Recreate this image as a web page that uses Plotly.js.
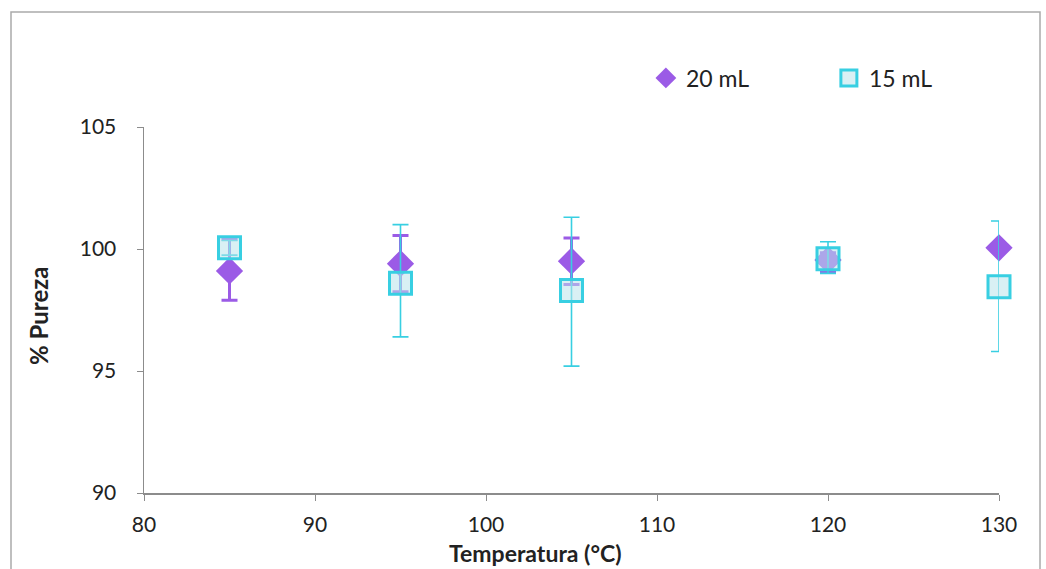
<!DOCTYPE html>
<html>
<head>
<meta charset="utf-8">
<script src="https://cdn.plot.ly/plotly-3.0.1.min.js"></script>
<style>
html,body{margin:0;padding:0;background:#fff;}
#chart{width:1046px;height:569px;}
</style>
</head>
<body>
<div id="chart"></div>
<script>
// Data
const temperatures = [85, 95, 105, 120, 130];
const pureza20 = [99.1, 99.4, 99.5, 99.55, 100.05];
const err20Plus = [1.3, 1.15, 0.95, 0.3, 0.0];
const err20Minus = [1.2, 1.15, 0.95, 0.5, 0.0];
const pureza15 = [100.05, 98.6, 98.3, 99.6, 98.45];
const err15Plus = [0.3, 2.4, 3.0, 0.7, 2.7];
const err15Minus = [0.3, 2.2, 3.1, 0.6, 2.65];
const xTicks = [80, 90, 100, 110, 120, 130];
const yTicks = [90, 95, 100, 105];
const xTitle = 'Temperatura (°C)';
const yTitle = '% Pureza';

const purple = '#9b5be6';
const cyan = '#38cfe2';
const fontFam = 'Lato, "Open Sans", "Liberation Sans", sans-serif';

const traces = [
  {
    x: temperatures, y: pureza20, name: '20 mL', type: 'scatter', mode: 'markers',
    cliponaxis: false,
    marker: {symbol: 'diamond', size: 21, color: purple},
    error_y: {type: 'data', symmetric: false, array: err20Plus, arrayminus: err20Minus,
              color: purple, thickness: 3, width: 8}
  },
  {
    x: temperatures, y: pureza15, name: '15 mL', type: 'scatter', mode: 'markers',
    cliponaxis: false,
    marker: {symbol: 'square', size: 22, color: 'rgba(185,228,235,0.55)',
             line: {color: cyan, width: 3}},
    error_y: {type: 'data', symmetric: false, array: err15Plus, arrayminus: err15Minus,
              color: cyan, thickness: 1.6, width: 8}
  }
];

const layout = {
  width: 1046, height: 569,
  margin: {l: 144, r: 47, t: 127, b: 76},
  paper_bgcolor: '#fff', plot_bgcolor: '#fff',
  font: {family: fontFam, size: 21, color: '#222'},
  showlegend: true,
  legend: {orientation: 'h', x: 0.587, xanchor: 'left', y: 1.134, yanchor: 'middle',
           font: {size: 23, color: '#222'}, entrywidth: 138, itemwidth: 20,
           tracegroupgap: 0, bgcolor: 'rgba(0,0,0,0)'},
  xaxis: {
    range: [80, 130], tickvals: xTicks, ticktext: xTicks.map(String),
    showgrid: false, zeroline: false, showline: true, linecolor: '#8c8c8c', linewidth: 1.5,
    ticks: 'outside', ticklen: 6, tickcolor: '#8c8c8c', tickfont: {size: 21},
    ticklabelstandoff: 6
  },
  yaxis: {
    range: [90, 105], tickvals: yTicks, ticktext: yTicks.map(String),
    showgrid: false, zeroline: false, showline: true, linecolor: '#8c8c8c', linewidth: 1.5,
    ticks: 'outside', ticklen: 6, tickcolor: '#8c8c8c', tickfont: {size: 21},
    ticklabelstandoff: 16
  },
  annotations: [
    {text: '<b>' + xTitle + '</b>', xref: 'paper', yref: 'paper',
     x: (535 - 144) / 855, y: (493 - 553) / 366, xanchor: 'center', yanchor: 'middle',
     showarrow: false, font: {size: 23, color: '#222'}},
    {text: '<b>' + yTitle + '</b>', xref: 'paper', yref: 'paper', textangle: -90,
     x: (38 - 144) / 855, y: (493 - 316) / 366, xanchor: 'center', yanchor: 'middle',
     showarrow: false, font: {size: 24, color: '#222'}}
  ],
  shapes: [{
    type: 'rect', xref: 'paper', yref: 'paper',
    x0: (11 - 144) / 855, x1: (1040 - 144) / 855,
    y0: -0.4, y1: (493 - 12) / 366,
    line: {color: '#aaaaaa', width: 1.5}, fillcolor: 'rgba(0,0,0,0)', layer: 'below'
  }]
};

Plotly.newPlot('chart', traces, layout, {displayModeBar: false, staticPlot: true});
</script>
</body>
</html>
